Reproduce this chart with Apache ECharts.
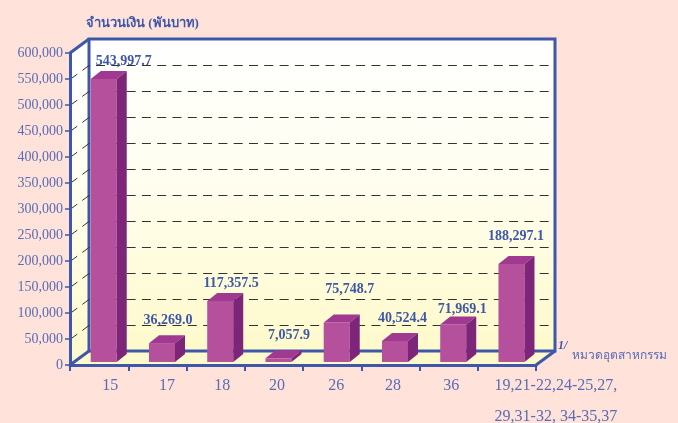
<!DOCTYPE html>
<html>
<head>
<meta charset="utf-8">
<title>ECharts</title>
<script src="https://cdn.jsdelivr.net/npm/echarts@6/dist/echarts.min.js"></script>
<style>html,body{margin:0;padding:0;background:#FFE2DA;overflow:hidden}</style>
</head>
<body>
<div id="main" style="width:678px;height:423px;"></div>
<script type="text/javascript">
var categories = ['15', '17', '18', '20', '26', '28', '36', '19,21-22,24-25,27,\n29,31-32, 34-35,37'];
var values = [543997.7, 36269.0, 117357.5, 7057.9, 75748.7, 40524.4, 71969.1, 188297.1];
var valueLabels = ['543,997.7', '36,269.0', '117,357.5', '7,057.9', '75,748.7', '40,524.4', '71,969.1', '188,297.1'];
var gridValues = [50000, 100000, 150000, 200000, 250000, 300000, 350000, 400000, 450000, 500000, 550000];

// hand placed in the original, so nudged one by one
var labelDx = [15, 1, 6, 5.5, 8, 2.5, 4, -0.5];
var labelDy = [-10, -15, -10, -15, -25, -15, -7, -20];
var tickLabelPad = [22, 19, 13, 6, 8, 5, 5, 98];

var blue = '#3F57A8';
var labelBlue = '#5A6CB4';
var serif = '"Liberation Serif", serif';
var depthX = 19, depthY = 14;

var myChart = echarts.init(document.getElementById('main'));

function renderWalls(params, api) {
    var r = params.coordSys;
    var l = r.x, t = r.y, w = r.width, h = r.height, b = t + h;
    var wallFill = new echarts.graphic.LinearGradient(0, 0, 0, 1, [
        { offset: 0, color: '#FFFFFF' },
        { offset: 0.45, color: '#FFFEEF' },
        { offset: 1, color: '#FEFACB' }
    ]);
    var frame = { stroke: blue, lineWidth: 3, fill: null };
    function line(pts) {
        return { type: 'polyline', shape: { points: pts }, style: frame };
    }
    return {
        type: 'group',
        children: [
            { type: 'polygon', shape: { points: [[l + depthX, t - depthY], [l + w + depthX, t - depthY], [l + w + depthX, b - depthY], [l + depthX, b - depthY]] }, style: { fill: wallFill } },
            { type: 'polygon', shape: { points: [[l, t], [l + depthX, t - depthY], [l + depthX, b - depthY], [l, b]] }, style: { fill: wallFill } },
            { type: 'polygon', shape: { points: [[l, b], [l + depthX, b - depthY], [l + w + depthX, b - depthY], [l + w, b]] }, style: { fill: '#FEFACB' } },
            line([[l + depthX, b - depthY], [l + depthX, t - depthY], [l + w + depthX, t - depthY], [l + w + depthX, b - depthY], [l + depthX, b - depthY]]),
            line([[l, t], [l + depthX, t - depthY]]),
            line([[l, b], [l + depthX, b - depthY]]),
            line([[l + w, b], [l + w + depthX, b - depthY]])
        ]
    };
}

function renderGrid(params, api) {
    var y = Math.round(api.coord([0, api.value(0)])[1]) + 0.5;
    var r = params.coordSys;
    return {
        type: 'polyline',
        shape: { points: [[r.x, y], [r.x + depthX, y - depthY], [r.x + r.width + depthX, y - depthY]] },
        style: { stroke: '#333333', lineWidth: 1, lineDash: [9, 6.3], fill: null }
    };
}

function renderBar(params, api) {
    var i = api.value(0);
    var base = api.coord([i, 0]);
    var top = api.coord([i, api.value(1)]);
    var x0 = base[0] - 8.4, x1 = x0 + 26;
    var yb = base[1] - 3, yt = top[1] - 3;
    var dx = 10, dy = 8;
    return {
        type: 'group',
        children: [
            { type: 'polygon', shape: { points: [[x0, yt], [x1, yt], [x1, yb], [x0, yb]] }, style: { fill: '#B5509C' } },
            { type: 'polygon', shape: { points: [[x0, yt], [x0 + dx, yt - dy], [x1 + dx, yt - dy], [x1, yt]] }, style: { fill: '#9F3A90' } },
            { type: 'polygon', shape: { points: [[x1, yt], [x1 + dx, yt - dy], [x1 + dx, yb - dy], [x1, yb]] }, style: { fill: '#7C2579' } },
            {
                type: 'text',
                style: {
                    text: valueLabels[i],
                    x: x0 + 13 + dx / 2 + labelDx[i],
                    y: yt - dy + labelDy[i],
                    fill: blue,
                    font: 'bold 14px ' + serif,
                    align: 'center',
                    verticalAlign: 'middle'
                }
            }
        ]
    };
}

var option = {
    backgroundColor: '#FFE2DA',
    animation: false,
    grid: { left: 70, top: 53, width: 466, height: 312, containLabel: false, outerBoundsMode: 'none' },
    xAxis: {
        type: 'category',
        z: 5,
        data: categories.map(function (c, i) {
            return { value: c, textStyle: { padding: [0, 0, 0, tickLabelPad[i]] } };
        }),
        axisLine: { lineStyle: { color: blue, width: 3 } },
        axisTick: { show: true, alignWithLabel: false, length: 6, lineStyle: { color: blue, width: 2 } },
        axisLabel: { interval: 0, margin: 5, color: labelBlue, fontFamily: serif, fontSize: 16, lineHeight: 31, verticalAlign: 'top' }
    },
    yAxis: {
        type: 'value',
        min: 0,
        max: 600000,
        interval: 50000,
        z: 5,
        splitLine: { show: false },
        axisLine: { show: true, lineStyle: { color: blue, width: 3 } },
        axisTick: { show: true, length: 5, lineStyle: { color: blue, width: 1.5 } },
        axisLabel: {
            margin: 7,
            color: labelBlue,
            fontFamily: serif,
            fontSize: 14,
            formatter: function (v) { return v.toLocaleString('en-US'); }
        }
    },
    graphic: [
        { type: 'text', left: 86, top: 17, style: { text: 'จำนวนเงิน (พันบาท)', fill: blue, font: 'bold 13px ' + serif } },
        { type: 'text', left: 558, top: 340, style: { text: '1/', fill: blue, font: 'italic bold 12px ' + serif } },
        { type: 'text', left: 572, top: 350, style: { text: 'หมวดอุตสาหกรรม', fill: labelBlue, font: '12px ' + serif } }
    ],
    series: [
        { type: 'custom', z: 1, renderItem: renderWalls, data: [[0, 0]], silent: true, clip: false },
        { type: 'custom', z: 2, renderItem: renderGrid, data: gridValues.map(function (v) { return [v]; }), encode: { x: -1, y: 0 }, silent: true, clip: false },
        { type: 'custom', z: 3, renderItem: renderBar, data: values.map(function (v, i) { return [i, v]; }), encode: { x: 0, y: 1 }, silent: true, clip: false }
    ]
};
myChart.setOption(option);
</script>
</body>
</html>
